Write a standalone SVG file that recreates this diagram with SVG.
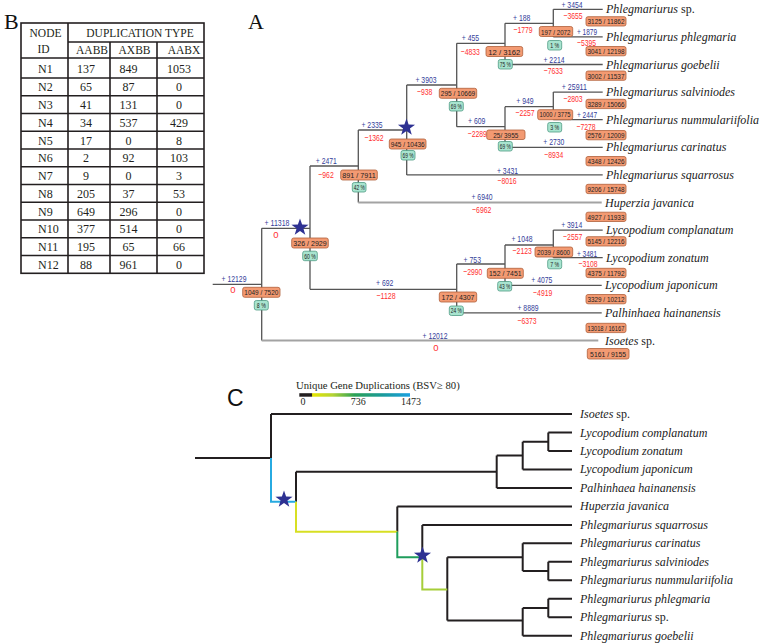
<svg xmlns="http://www.w3.org/2000/svg" width="761" height="643" viewBox="0 0 761 643">
<defs>
<style>
.tl{stroke:#231f20;stroke-width:1.6;fill:none}
.tt{font-family:'Liberation Serif','Times New Roman',serif;font-size:12px;fill:#231f20;text-anchor:middle}
.th{font-family:'Liberation Serif','Times New Roman',serif;font-size:11.5px;fill:#231f20;text-anchor:middle}
.big{font-family:'Liberation Serif','Times New Roman',serif;font-size:22px;fill:#111}
.ln{stroke:#555;stroke-width:1.3;fill:none}
.lt{stroke:#a3a3a3;stroke-width:2;fill:none}
.pl{font-family:'Liberation Sans','Arial',sans-serif;font-size:9.5px;fill:#34409a;text-anchor:middle}
.mi{font-family:'Liberation Sans','Arial',sans-serif;font-size:9.5px;fill:#ff3030;text-anchor:middle}
.bx{fill:#f39a72;stroke:#b0603a;stroke-width:0.8}
.pc{fill:#a8e4cf;stroke:#4f9c84;stroke-width:0.8}
.bt{font-family:'Liberation Sans','Arial',sans-serif;font-size:8px;fill:#222;text-anchor:middle}
.sp{font-family:'Liberation Serif','Times New Roman',serif;font-style:italic;font-size:12px;fill:#222}
.cl{stroke:#231f20;stroke-width:2;fill:none}
.st{fill:#2e3192}
</style>
<path id="star" d="M0,-9 L2.12,-2.91 L8.56,-2.78 L3.42,1.11 L5.29,7.28 L0,3.6 L-5.29,7.28 L-3.42,1.11 L-8.56,-2.78 L-2.12,-2.91 Z"/>
<linearGradient id="grad" x1="0" y1="0" x2="1" y2="0">
<stop offset="0" stop-color="#231f20"/>
<stop offset="0.11" stop-color="#231f20"/>
<stop offset="0.12" stop-color="#e5e600"/>
<stop offset="0.3" stop-color="#b5d334"/>
<stop offset="0.5" stop-color="#2aa155"/>
<stop offset="0.75" stop-color="#1a9a9a"/>
<stop offset="1" stop-color="#1aa0e0"/>
</linearGradient>
</defs>
<rect width="761" height="643" fill="#fff"/>

<!-- Panel B table -->
<g id="panel-B">
<text class="big" x="4" y="29">B</text>
<g id="table-lines">
<rect class="tl" x="21" y="23" width="183" height="250.3"/>
<path class="tl" d="M68,23V273.3 M110,42V273.3 M157,42V273.3 M68,42H204 M21,58H204 M21,78H204 M21,95.75H204 M21,113.5H204 M21,131.25H204 M21,149H204 M21,166.75H204 M21,184.5H204 M21,202.25H204 M21,220H204 M21,237.75H204 M21,255.5H204"/>
</g>
<g id="table-header">
<text class="th" x="45.5" y="37">NODE</text>
<text class="th" x="43.5" y="53">ID</text>
<text class="th" x="140" y="37">DUPLICATION  TYPE</text>
<text class="th" x="92" y="54">AABB</text>
<text class="th" x="134.5" y="54">AXBB</text>
<text class="th" x="184" y="54">AABX</text>
</g>
<g id="table-rows" class="tt">
<text x="38" y="73.2" text-anchor="start">N1</text><text x="86" y="73.2">137</text><text x="128.5" y="73.2">849</text><text x="179" y="73.2">1053</text>
<text x="38" y="91.2" text-anchor="start">N2</text><text x="86" y="91.2">65</text><text x="128.5" y="91.2">87</text><text x="179" y="91.2">0</text>
<text x="38" y="109" text-anchor="start">N3</text><text x="86" y="109">41</text><text x="128.5" y="109">131</text><text x="179" y="109">0</text>
<text x="38" y="126.7" text-anchor="start">N4</text><text x="86" y="126.7">34</text><text x="128.5" y="126.7">537</text><text x="179" y="126.7">429</text>
<text x="38" y="144.5" text-anchor="start">N5</text><text x="86" y="144.5">17</text><text x="128.5" y="144.5">0</text><text x="179" y="144.5">8</text>
<text x="38" y="162.2" text-anchor="start">N6</text><text x="86" y="162.2">2</text><text x="128.5" y="162.2">92</text><text x="179" y="162.2">103</text>
<text x="38" y="180" text-anchor="start">N7</text><text x="86" y="180">9</text><text x="128.5" y="180">0</text><text x="179" y="180">3</text>
<text x="38" y="197.7" text-anchor="start">N8</text><text x="86" y="197.7">205</text><text x="128.5" y="197.7">37</text><text x="179" y="197.7">53</text>
<text x="38" y="215.5" text-anchor="start">N9</text><text x="86" y="215.5">649</text><text x="128.5" y="215.5">296</text><text x="179" y="215.5">0</text>
<text x="38" y="233.2" text-anchor="start">N10</text><text x="86" y="233.2">377</text><text x="128.5" y="233.2">514</text><text x="179" y="233.2">0</text>
<text x="38" y="251" text-anchor="start">N11</text><text x="86" y="251">195</text><text x="128.5" y="251">65</text><text x="179" y="251">66</text>
<text x="38" y="268.7" text-anchor="start">N12</text><text x="86" y="268.7">88</text><text x="128.5" y="268.7">961</text><text x="179" y="268.7">0</text>
</g>
</g>

<!-- Panel A -->
<g id="panel-A">
<text class="big" x="248" y="29">A</text>
<g id="A-connectors">
<path class="ln" d="M212.7,284.3H261.7 M261.7,228.3H310 M310,166H358.3 M310,289.3H456.7 M358.3,130H406.7 M406.7,85H456.7 M406.7,174.9H602.7 M456.7,43.3H505 M456.7,126.7H505 M505,23.3H553.3 M505,64.5H602.7 M553.3,9.3H602.7 M553.3,36.9H602.7 M505,106.7H553.3 M505,147.3H602.7 M553.3,92.1H602.7 M553.3,119.7H602.7 M456.7,264H505 M456.7,312.9H601.7 M505,245H553.3 M505,285.3H601.7 M553.3,230.1H602.7 M553.3,257.7H602.7"/>
<path class="ln" d="M261.7,228.3V340.5 M310,166V289.3 M358.3,130V202.5 M406.7,85V174.9 M456.7,43.3V126.7 M505,23.3V64.5 M553.3,9.3V36.9 M505,106.7V147.3 M553.3,92.1V119.7 M456.7,264V312.9 M505,245V285.3 M553.3,230.1V257.7"/>
<path class="lt" d="M358.3,202.5H601.7 M261.7,340.5H598.3"/>
</g>
<g id="A-branch-labels">
<text class="pl" x="234" y="282.3" textLength="25" lengthAdjust="spacingAndGlyphs">+ 12129</text><text class="mi" x="233" y="292.6">0</text>
<text class="pl" x="277" y="225.9" textLength="25" lengthAdjust="spacingAndGlyphs">+ 11318</text><text class="mi" x="276" y="237.6">0</text>
<text class="pl" x="326.3" y="164" textLength="21" lengthAdjust="spacingAndGlyphs">+ 2471</text><text class="mi" x="326" y="177.6" textLength="15.4" lengthAdjust="spacingAndGlyphs">−962</text>
<text class="pl" x="372" y="127.6" textLength="21" lengthAdjust="spacingAndGlyphs">+ 2335</text><text class="mi" x="374" y="140.6" textLength="19.2" lengthAdjust="spacingAndGlyphs">−1362</text>
<text class="pl" x="426" y="82.9" textLength="21" lengthAdjust="spacingAndGlyphs">+ 3903</text><text class="mi" x="424.7" y="95.3" textLength="15.4" lengthAdjust="spacingAndGlyphs">−938</text>
<text class="pl" x="470.5" y="41.3" textLength="17.4" lengthAdjust="spacingAndGlyphs">+ 455</text><text class="mi" x="470.3" y="54.6" textLength="19.2" lengthAdjust="spacingAndGlyphs">−4833</text>
<text class="pl" x="521.7" y="20.9" textLength="17.4" lengthAdjust="spacingAndGlyphs">+ 188</text><text class="mi" x="523" y="32.9" textLength="19.2" lengthAdjust="spacingAndGlyphs">−1779</text>
<text class="pl" x="572" y="8.1" textLength="21" lengthAdjust="spacingAndGlyphs">+ 3454</text><text class="mi" x="573" y="18.6" textLength="19.2" lengthAdjust="spacingAndGlyphs">−3655</text>
<text class="pl" x="587" y="35.3" textLength="20" lengthAdjust="spacingAndGlyphs">+ 1879</text><text class="mi" x="586.5" y="46.3" textLength="19.2" lengthAdjust="spacingAndGlyphs">−5395</text>
<text class="pl" x="554" y="62.6" textLength="21" lengthAdjust="spacingAndGlyphs">+ 2214</text><text class="mi" x="553.3" y="73.6" textLength="19.2" lengthAdjust="spacingAndGlyphs">−7633</text>
<text class="pl" x="476.7" y="123.6" textLength="17.4" lengthAdjust="spacingAndGlyphs">+ 609</text><text class="mi" x="477.3" y="136.9" textLength="19.2" lengthAdjust="spacingAndGlyphs">−2289</text>
<text class="pl" x="525" y="103.6" textLength="17.4" lengthAdjust="spacingAndGlyphs">+ 949</text><text class="mi" x="525" y="116.3" textLength="19.2" lengthAdjust="spacingAndGlyphs">−2257</text>
<text class="pl" x="574.3" y="90.3" textLength="25" lengthAdjust="spacingAndGlyphs">+ 25911</text><text class="mi" x="573" y="101.9" textLength="19.2" lengthAdjust="spacingAndGlyphs">−2803</text>
<text class="pl" x="587" y="117.9" textLength="20" lengthAdjust="spacingAndGlyphs">+ 2447</text><text class="mi" x="586" y="130.3" textLength="19.2" lengthAdjust="spacingAndGlyphs">−7278</text>
<text class="pl" x="553.8" y="145.3" textLength="21" lengthAdjust="spacingAndGlyphs">+ 2730</text><text class="mi" x="553.8" y="157.6" textLength="19.2" lengthAdjust="spacingAndGlyphs">−8934</text>
<text class="pl" x="507.5" y="173.6" textLength="21" lengthAdjust="spacingAndGlyphs">+ 3431</text><text class="mi" x="507" y="184.3" textLength="19.2" lengthAdjust="spacingAndGlyphs">−8016</text>
<text class="pl" x="482" y="200.3" textLength="21" lengthAdjust="spacingAndGlyphs">+ 6940</text><text class="mi" x="481.7" y="212.6" textLength="19.2" lengthAdjust="spacingAndGlyphs">−6962</text>
<text class="pl" x="384.7" y="286.3" textLength="17.4" lengthAdjust="spacingAndGlyphs">+ 692</text><text class="mi" x="386" y="298.6" textLength="19.2" lengthAdjust="spacingAndGlyphs">−1128</text>
<text class="pl" x="472.3" y="262.9" textLength="17.4" lengthAdjust="spacingAndGlyphs">+ 753</text><text class="mi" x="472.8" y="275.3" textLength="19.2" lengthAdjust="spacingAndGlyphs">−2990</text>
<text class="pl" x="522" y="241.9" textLength="21" lengthAdjust="spacingAndGlyphs">+ 1048</text><text class="mi" x="522.2" y="253.6" textLength="19.2" lengthAdjust="spacingAndGlyphs">−2123</text>
<text class="pl" x="571.7" y="227.9" textLength="21" lengthAdjust="spacingAndGlyphs">+ 3914</text><text class="mi" x="572.7" y="239.6" textLength="19.2" lengthAdjust="spacingAndGlyphs">−2557</text>
<text class="pl" x="587" y="256.9" textLength="20" lengthAdjust="spacingAndGlyphs">+ 3481</text><text class="mi" x="588" y="266.9" textLength="19.2" lengthAdjust="spacingAndGlyphs">−3108</text>
<text class="pl" x="541.8" y="282.9" textLength="21" lengthAdjust="spacingAndGlyphs">+ 4075</text><text class="mi" x="542.7" y="295.9" textLength="19.2" lengthAdjust="spacingAndGlyphs">−4919</text>
<text class="pl" x="528" y="311.3" textLength="21" lengthAdjust="spacingAndGlyphs">+ 8889</text><text class="mi" x="527" y="323.6" textLength="19.2" lengthAdjust="spacingAndGlyphs">−6373</text>
<text class="pl" x="435" y="338.6" textLength="25" lengthAdjust="spacingAndGlyphs">+ 12012</text><text class="mi" x="436" y="350.9">0</text>
</g>
<g id="A-stars">
<use href="#star" class="st" x="300" y="227.5"/>
<use href="#star" class="st" x="406.5" y="127.5"/>
</g>
<g id="A-internal-nodes">
<g id="A-root"><rect class="bx" x="242.7" y="287.3" width="37.3" height="10" rx="2"/><text class="bt" x="261.3" y="295.2" textLength="34" lengthAdjust="spacingAndGlyphs">1049 / 7520</text><rect class="pc" x="254.3" y="300.5" width="14" height="9.5" rx="2"/><text class="bt" x="261.3" y="307.9" textLength="9" lengthAdjust="spacingAndGlyphs">8 %</text></g>
<g id="A-N1"><rect class="bx" x="291.7" y="238" width="36.6" height="10" rx="2"/><text class="bt" x="310" y="246" textLength="33.5" lengthAdjust="spacingAndGlyphs">326 / 2929</text><rect class="pc" x="302.7" y="251.2" width="14.6" height="9.5" rx="2"/><text class="bt" x="310" y="258.6" textLength="11.5" lengthAdjust="spacingAndGlyphs">60 %</text></g>
<g id="A-nA"><rect class="bx" x="340.7" y="170" width="36.6" height="10" rx="2"/><text class="bt" x="359" y="178" textLength="33.5" lengthAdjust="spacingAndGlyphs">891 / 7911</text><rect class="pc" x="352.3" y="182.5" width="13.7" height="9.5" rx="2"/><text class="bt" x="359.2" y="189.9" textLength="11" lengthAdjust="spacingAndGlyphs">42 %</text></g>
<g id="A-nB"><rect class="bx" x="389.3" y="139" width="36.7" height="10" rx="2"/><text class="bt" x="407.7" y="147" textLength="34" lengthAdjust="spacingAndGlyphs">945 / 10436</text><rect class="pc" x="401" y="150.5" width="14" height="9.5" rx="2"/><text class="bt" x="408" y="157.9" textLength="11" lengthAdjust="spacingAndGlyphs">69 %</text></g>
<g id="A-nC"><rect class="bx" x="439.3" y="88.3" width="37.4" height="10" rx="2"/><text class="bt" x="458" y="96.3" textLength="34.5" lengthAdjust="spacingAndGlyphs">295 / 10669</text><rect class="pc" x="449.3" y="101.5" width="14" height="9.5" rx="2"/><text class="bt" x="456.3" y="108.9" textLength="11" lengthAdjust="spacingAndGlyphs">69 %</text></g>
<g id="A-nD"><rect class="bx" x="486" y="46.5" width="36.7" height="10" rx="2"/><text class="bt" x="504.3" y="54.5" textLength="32" lengthAdjust="spacingAndGlyphs">12 / 3162</text><rect class="pc" x="498.3" y="59.5" width="14" height="9.5" rx="2"/><text class="bt" x="505.3" y="66.9" textLength="11" lengthAdjust="spacingAndGlyphs">75 %</text></g>
<g id="A-nE"><rect class="bx" x="539.3" y="26.5" width="33.4" height="10" rx="2"/><text class="bt" x="555.8" y="34.5" textLength="29.5" lengthAdjust="spacingAndGlyphs">197 / 2072</text><rect class="pc" x="547.7" y="40.5" width="14" height="9.5" rx="2"/><text class="bt" x="554.7" y="47.9" textLength="9" lengthAdjust="spacingAndGlyphs">1 %</text></g>
<g id="A-nF"><rect class="bx" x="486.7" y="130" width="38.3" height="9.5" rx="2"/><text class="bt" x="505.8" y="137.7" textLength="25" lengthAdjust="spacingAndGlyphs">25/ 3955</text><rect class="pc" x="498.3" y="141.5" width="14" height="9.5" rx="2"/><text class="bt" x="505.3" y="148.9" textLength="11" lengthAdjust="spacingAndGlyphs">69 %</text></g>
<g id="A-nG"><rect class="bx" x="537.7" y="109.7" width="35" height="10" rx="2"/><text class="bt" x="555" y="117.4" textLength="31" lengthAdjust="spacingAndGlyphs">1000 / 3775</text><rect class="pc" x="547.7" y="122.5" width="14" height="9.5" rx="2"/><text class="bt" x="554.7" y="129.9" textLength="9" lengthAdjust="spacingAndGlyphs">3 %</text></g>
<g id="A-nH"><rect class="bx" x="439.3" y="292" width="37.4" height="10" rx="2"/><text class="bt" x="458" y="300" textLength="33" lengthAdjust="spacingAndGlyphs">172 / 4307</text><rect class="pc" x="449.3" y="306" width="14" height="9.5" rx="2"/><text class="bt" x="456.3" y="313.4" textLength="11" lengthAdjust="spacingAndGlyphs">24 %</text></g>
<g id="A-nI"><rect class="bx" x="487.3" y="268.3" width="36" height="10" rx="2"/><text class="bt" x="505.3" y="276.3" textLength="32.5" lengthAdjust="spacingAndGlyphs">152 / 7451</text><rect class="pc" x="497.7" y="281.5" width="14" height="9.5" rx="2"/><text class="bt" x="504.7" y="288.9" textLength="11" lengthAdjust="spacingAndGlyphs">43 %</text></g>
<g id="A-nJ"><rect class="bx" x="535" y="247" width="37.7" height="10" rx="2"/><text class="bt" x="553.6" y="255" textLength="33" lengthAdjust="spacingAndGlyphs">2039 / 8600</text><rect class="pc" x="547.7" y="259.3" width="14" height="9.5" rx="2"/><text class="bt" x="554.7" y="266.7" textLength="9" lengthAdjust="spacingAndGlyphs">7 %</text></g>
</g>
<g id="A-leaves">
<g id="A-leaf-psp"><text class="sp" x="606" y="13.3">Phlegmariurus <tspan font-style="normal">sp.</tspan></text><rect class="bx" x="586" y="16.7" width="40" height="9.3" rx="2"/><text class="bt" x="606" y="24.2" textLength="37" lengthAdjust="spacingAndGlyphs">3125 / 11862</text></g>
<g id="A-leaf-pphl"><text class="sp" x="606" y="40.9">Phlegmariurus phlegmaria</text><rect class="bx" x="586" y="46.5" width="40" height="9.3" rx="2"/><text class="bt" x="606" y="54" textLength="37" lengthAdjust="spacingAndGlyphs">3041 / 12198</text></g>
<g id="A-leaf-pgoe"><text class="sp" x="606" y="68.5">Phlegmariurus goebelii</text><rect class="bx" x="586" y="71" width="40" height="9.3" rx="2"/><text class="bt" x="606" y="78.5" textLength="37" lengthAdjust="spacingAndGlyphs">3002 / 11537</text></g>
<g id="A-leaf-psal"><text class="sp" x="606" y="96.1">Phlegmariurus salviniodes</text><rect class="bx" x="586" y="99.3" width="40" height="9.3" rx="2"/><text class="bt" x="606" y="106.8" textLength="37" lengthAdjust="spacingAndGlyphs">3289 / 15066</text></g>
<g id="A-leaf-pnum"><text class="sp" x="606" y="123.7">Phlegmariurus nummulariifolia</text><rect class="bx" x="586" y="130.5" width="40" height="9.3" rx="2"/><text class="bt" x="606" y="138" textLength="37" lengthAdjust="spacingAndGlyphs">2576 / 12009</text></g>
<g id="A-leaf-pcar"><text class="sp" x="606" y="151.3">Phlegmariurus carinatus</text><rect class="bx" x="586" y="156.5" width="40" height="9.3" rx="2"/><text class="bt" x="606" y="164" textLength="37" lengthAdjust="spacingAndGlyphs">4348 / 12426</text></g>
<g id="A-leaf-psqu"><text class="sp" x="606" y="178.9">Phlegmariurus squarrosus</text><rect class="bx" x="586" y="184.3" width="40" height="9.3" rx="2"/><text class="bt" x="606" y="191.8" textLength="37" lengthAdjust="spacingAndGlyphs">9206 / 15748</text></g>
<g id="A-leaf-hjav"><text class="sp" x="605" y="206.5">Huperzia javanica</text><rect class="bx" x="586" y="212.2" width="40" height="9.3" rx="2"/><text class="bt" x="606" y="219.7" textLength="37" lengthAdjust="spacingAndGlyphs">4927 / 11933</text></g>
<g id="A-leaf-lcom"><text class="sp" x="606" y="234.1">Lycopodium complanatum</text><rect class="bx" x="586" y="236.7" width="40" height="9.3" rx="2"/><text class="bt" x="606" y="244.2" textLength="37" lengthAdjust="spacingAndGlyphs">5145 / 12216</text></g>
<g id="A-leaf-lzon"><text class="sp" x="606" y="261.7">Lycopodium zonatum</text><rect class="bx" x="586" y="268.3" width="40" height="9.3" rx="2"/><text class="bt" x="606" y="275.8" textLength="37" lengthAdjust="spacingAndGlyphs">4375 / 11792</text></g>
<g id="A-leaf-ljap"><text class="sp" x="605" y="289.3">Lycopodium japonicum</text><rect class="bx" x="586" y="294.5" width="40" height="9.3" rx="2"/><text class="bt" x="606" y="302" textLength="37" lengthAdjust="spacingAndGlyphs">3329 / 10212</text></g>
<g id="A-leaf-phai"><text class="sp" x="605" y="316.9">Palhinhaea hainanensis</text><rect class="bx" x="586" y="323.3" width="40" height="9.3" rx="2"/><text class="bt" x="606" y="330.8" textLength="37" lengthAdjust="spacingAndGlyphs">13018 / 16167</text></g>
<g id="A-leaf-isp"><text class="sp" x="605" y="344.5">Isoetes <tspan font-style="normal">sp.</tspan></text><rect class="bx" x="587.3" y="348.5" width="41.7" height="10.5" rx="2"/><text class="bt" x="608.1" y="356.6" textLength="36" lengthAdjust="spacingAndGlyphs">5161 / 9155</text></g>
</g>
</g>

<!-- Panel C -->
<g id="panel-C">
<text x="227" y="406" font-family="'Liberation Sans',Arial,sans-serif" font-size="23" fill="#111">C</text>
<g id="C-legend">
<text x="296" y="389" font-family="'Liberation Serif','Times New Roman',serif" font-size="10.7" fill="#231f20">Unique Gene Duplications (BSV≥ 80)</text>
<rect x="299.3" y="393.2" width="110.7" height="3.5" fill="url(#grad)"/>
<g font-family="'Liberation Serif','Times New Roman',serif" font-size="10" fill="#231f20" text-anchor="middle">
<text x="303" y="404.5">0</text><text x="358.3" y="404.5">736</text><text x="411" y="405">1473</text>
</g>
</g>
<g id="C-connectors">
<path class="cl" d="M195,457.9H271 M271,414H572 M271,414V457.9 M296,471.7V501.7 M296,471.7H496.7 M496.7,487.9H572 M496.7,455.6V487.9 M496.7,455.6H522.7 M522.7,469.4H572 M522.7,441.7V469.4 M522.7,441.7H548.3 M548.3,432.5V451 M548.3,432.5H572 M548.3,451H572 M397.3,506.4V531.8 M397.3,506.4H572 M422.3,524.9V557.2 M422.3,524.9H572 M447.3,557.2V620.5 M447.3,557.2H522.7 M522.7,543.3V571 M522.7,543.3H572 M522.7,571H548.3 M548.3,561.8V580.3 M548.3,561.8H572 M548.3,580.3H572 M447.3,620.5H522.7 M522.7,608V635.7 M522.7,635.7H572 M522.7,608H548.3 M548.3,598.8V617.2 M548.3,598.8H572 M548.3,617.2H572"/>
<path d="M271,457.9V501.7H296" stroke="#27aae1" stroke-width="2" fill="none"/>
<path d="M296,501.7V531.8H397.3" stroke="#d7df23" stroke-width="2" fill="none"/>
<path d="M397.3,531.8V557.2H422.3" stroke="#1f9d5c" stroke-width="2" fill="none"/>
<path d="M422.3,557.2V589.5H447.3" stroke="#a6ce39" stroke-width="2" fill="none"/>
</g>
<g id="C-stars">
<use href="#star" class="st" x="284" y="499.5"/>
<use href="#star" class="st" x="422.5" y="555.5"/>
</g>
<g id="C-leaves">
<text class="sp" x="580" y="418">Isoetes <tspan font-style="normal">sp.</tspan></text>
<text class="sp" x="580" y="436.5">Lycopodium complanatum</text>
<text class="sp" x="580" y="455">Lycopodium zonatum</text>
<text class="sp" x="580" y="473.4">Lycopodium japonicum</text>
<text class="sp" x="580" y="491.9">Palhinhaea hainanensis</text>
<text class="sp" x="580" y="510.4">Huperzia javanica</text>
<text class="sp" x="580" y="528.9">Phlegmariurus squarrosus</text>
<text class="sp" x="580" y="547.3">Phlegmariurus carinatus</text>
<text class="sp" x="580" y="565.8">Phlegmariurus salviniodes</text>
<text class="sp" x="580" y="584.3">Phlegmariurus nummulariifolia</text>
<text class="sp" x="580" y="602.8">Phlegmariurus phlegmaria</text>
<text class="sp" x="580" y="621.2">Phlegmariurus <tspan font-style="normal">sp.</tspan></text>
<text class="sp" x="580" y="639.7">Phlegmariurus goebelii</text>
</g>
</g>
</svg>
